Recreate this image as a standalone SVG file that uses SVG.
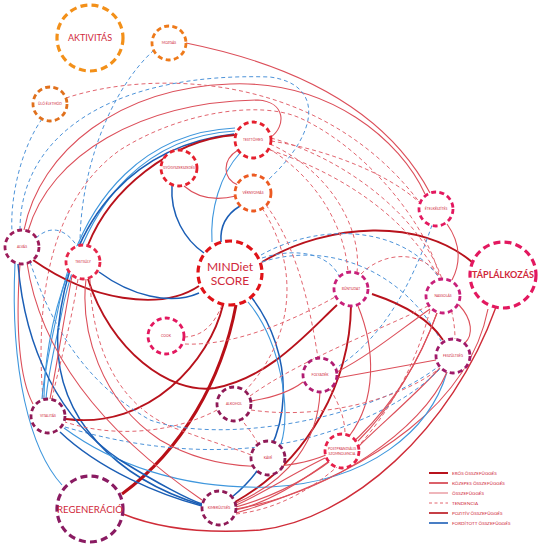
<svg xmlns="http://www.w3.org/2000/svg" width="540" height="547" viewBox="0 0 540 547">
<style>
.c{fill:none}
.r{stroke:#dc4f5a;stroke-width:1.1}
.rm{stroke:#cf2c38;stroke-width:1.4}
.rs{stroke:#b8121c;stroke-width:1.9}
.rx{stroke:#b80f17;stroke-width:3}
.rd{stroke:#e2656f;stroke-width:1;stroke-dasharray:4 3}
.bd{stroke:#4d93d9;stroke-width:1;stroke-dasharray:4 3}
.b{stroke:#1b5eb5;stroke-width:1.5}
.bl{stroke:#3f97dd;stroke-width:1.1}
.n{fill:#fff;stroke-width:2.8;stroke-dasharray:5 3.3}
.N{fill:#fff;stroke-width:3.2;stroke-dasharray:7 4.2}
.t{font-family:Lato,"Liberation Sans",sans-serif;fill:#d0283a;text-anchor:middle}
.s{font-size:3.4px}
.L{font-size:9px}
.lg{font-family:Lato,"Liberation Sans",sans-serif;fill:#d0283a;font-size:4.6px}
</style>
<rect width="540" height="547" fill="#fff"/>
<g id="connectors">
<path class="c r" d="M186,43 Q370,80 430,193"/>
<path class="c r" d="M24,230 C40,150 120,88 230,84 C330,80 400,140 425,194"/>
<path class="c r" d="M28,231 C50,155 140,102 258,100 C286,102 286,126 271,137"/>
<path class="c rd" d="M66,98 C150,70 320,70 420,203"/>
<path class="c bd" d="M20,230 C20,130 120,72 270,77 C322,84 322,130 268,180"/>
<path class="c bd" d="M42,119 C20,150 10,200 12,231"/>
<path class="c bd" d="M154,50 C110,90 80,170 80,245"/>
<path class="c bd" d="M36,238 C50,225 65,228 77,246"/>
<path class="c rd" d="M43,399 C35,300 50,200 120,150 C180,112 260,100 300,118 C370,150 430,230 440,279"/>
<path class="c bl" d="M235,128 C150,132 85,190 60,300 C52,340 44,370 42,399"/>
<path class="c bl" d="M235,131 C152,136 89,193 64,302 C56,342 48,372 46,399"/>
<path class="c b" d="M234,134 C140,145 70,210 58,330 C52,420 120,480 202,505"/>
<path class="c rs" d="M88,245 C110,190 170,140 235,135"/>
<path class="c bl" d="M240,153 C220,175 210,210 212,242"/>
<path class="c b" d="M172,186 C170,215 185,240 204,253"/>
<path class="c b" d="M240,206 C225,215 220,228 221,242"/>
<path class="c r" d="M184,186 C200,200 220,200 236,196"/>
<path class="c r" d="M238,150 C222,160 222,178 238,185"/>
<path class="c rs" d="M33,260 C90,300 160,312 199,286"/>
<path class="c b" d="M99,272 C130,295 170,306 199,293"/>
<path class="c rs" d="M88,279 C110,350 170,395 215,388 C270,378 310,330 337,305"/>
<path class="c rs" d="M262,262 C330,222 420,218 472,262"/>
<path class="c rx" d="M236,305 C222,380 182,450 122,494"/>
<path class="c rs" d="M223,305 C210,360 150,430 66,419"/>
<path class="c b" d="M252,298 C292,350 302,440 232,497"/>
<path class="c bl" d="M248,302 C280,340 292,410 281,444"/>
<path class="c rd" d="M222,305 C215,322 205,336 185,337"/>
<path class="c rd" d="M185,344 C230,346 285,325 335,297"/>
<path class="c bd" d="M261,255 C320,222 402,225 440,279"/>
<path class="c bd" d="M262,262 C330,240 405,272 441,341"/>
<path class="c bd" d="M262,258 C300,246 330,256 339,276"/>
<path class="c r" d="M447,224 C462,245 460,265 452,280"/>
<path class="c r" d="M459,305 C473,320 473,335 465,343"/>
<path class="c bd" d="M432,225 C410,290 380,340 336,368"/>
<path class="c rd" d="M361,274 C385,250 425,250 441,279"/>
<path class="c rs" d="M372,294 C405,305 430,320 443,340"/>
<path class="c rs" d="M351,306 C350,380 310,460 235,502"/>
<path class="c r" d="M358,306 C376,350 376,400 350,435"/>
<path class="c r" d="M430,309 C400,330 370,355 337,372"/>
<path class="c r" d="M337,378 C370,372 410,365 436,360"/>
<path class="c r" d="M437,313 C420,360 390,410 358,441"/>
<path class="c r" d="M440,368 C410,400 380,425 359,446"/>
<path class="c rm" d="M496,307 C452,430 350,520 260,530 C190,535 150,525 123,514"/>
<path class="c r" d="M488,309 C470,400 380,470 236,513"/>
<path class="c bl" d="M447,372 C430,430 370,482 270,487 C180,490 110,462 64,428"/>
<path class="c bd" d="M30,262 C50,320 80,380 150,420 C220,445 370,420 439,366"/>
<path class="c bd" d="M65,427 C150,452 230,456 300,440 C360,425 410,400 441,368"/>
<path class="c bl" d="M15,263 C10,370 30,450 62,485"/>
<path class="c r" d="M20,264 C15,330 20,380 33,404"/>
<path class="c b" d="M60,432 C100,470 160,495 202,506"/>
<path class="c b" d="M18,264 C25,350 60,420 120,460 C160,485 190,500 202,504"/>
<path class="c r" d="M27,263 C40,350 100,430 202,500"/>
<path class="c r" d="M86,279 C80,330 100,400 160,440 C220,475 290,470 326,455"/>
<path class="c r" d="M72,276 C62,330 56,370 50,399"/>
<path class="c rd" d="M78,279 C70,330 58,370 52,399"/>
<path class="c rd" d="M90,279 C92,350 120,410 180,430 C220,445 240,450 251,455"/>
<path class="c bl" d="M68,274 C50,320 44,370 44,399"/>
<path class="c r" d="M251,401 C270,398 290,392 303,382"/>
<path class="c rd" d="M250,396 C300,360 380,330 428,306"/>
<path class="c rd" d="M251,410 C320,420 400,400 440,368"/>
<path class="c rd" d="M217,410 C180,430 120,440 65,422"/>
<path class="c rd" d="M258,444 C252,432 246,426 242,420"/>
<path class="c r" d="M325,458 C290,475 262,494 236,505"/>
<path class="c r" d="M328,462 C300,482 270,502 236,510"/>
<path class="c rd" d="M236,514 C322,505 402,420 430,310"/>
<path class="c r" d="M236,507 C332,480 402,410 437,313"/>
<path class="c r" d="M236,509 C332,492 422,430 447,372"/>
<path class="c r" d="M320,392 C318,440 290,480 236,503"/>
<path class="c rd" d="M330,389 C340,405 345,420 345,434"/>
<path class="c rd" d="M268,148 C320,180 345,230 348,272"/>
<path class="c rd" d="M270,144 C332,172 362,230 357,272"/>
<path class="c rd" d="M271,138 C350,160 422,220 442,279"/>
<path class="c rd" d="M271,141 C330,150 390,175 420,203"/>
<path class="c rd" d="M266,205 C300,250 312,320 318,358"/>
<path class="c rd" d="M262,208 C302,270 292,340 246,390"/>
<path class="c rd" d="M270,150 C390,190 455,270 455,339"/>
</g>
<g id="n-aktivitas"><circle class="N" cx="90" cy="38" r="33" stroke="#f39019"/><text class="t L" x="90" y="41">AKTIVITÁS</text></g>
<g id="n-mozgas"><circle class="n" cx="169" cy="43" r="17" stroke="#ee7a1a"/><text class="t s" x="169" y="44.2">MOZGÁS</text></g>
<g id="n-ulo"><circle class="n" cx="50" cy="104" r="17" stroke="#e0701c"/><text class="t s" x="50" y="105.2">ÜLŐ ÉLETMÓD</text></g>
<g id="n-testtomeg"><circle class="n" cx="253" cy="140" r="18" stroke="#e5202e"/><text class="t s" x="253" y="141.2">TESTTÖMEG</text></g>
<g id="n-gyogy"><circle class="n" cx="179" cy="168" r="18" stroke="#e5202e"/><text class="t s" x="179" y="169.2">GYÓGYSZERSZEDÉS</text></g>
<g id="n-vernyomas"><circle class="n" cx="253" cy="193" r="18" stroke="#ec5a22"/><text class="t s" x="253" y="194.2">VÉRNYOMÁS</text></g>
<g id="n-etel"><circle class="n" cx="436" cy="209" r="17" stroke="#e3185f"/><text class="t s" x="436" y="210.2">ÉTELKÉSZÍTÉS</text></g>
<g id="n-alvas"><circle class="n" cx="22" cy="247" r="17" stroke="#9c1c5a"/><text class="t s" x="22" y="248.2">ALVÁS</text></g>
<g id="n-testsuly"><circle class="n" cx="83" cy="262" r="17" stroke="#e6264a"/><text class="t s" x="83" y="263.2">TESTSÚLY</text></g>
<g id="n-mind"><circle class="N" cx="230" cy="273" r="32" stroke="#e01218"/><text class="t" x="230" y="271" font-size="12">MINDiet</text><text class="t" x="230" y="285" font-size="12">SCORE</text></g>
<g id="n-taplalkozas"><circle class="N" cx="503" cy="275" r="33" stroke="#e3185f"/><text class="t L" x="503" y="278" font-weight="bold">TÁPLÁLKOZÁS</text></g>
<g id="n-buntudat"><circle class="n" cx="351" cy="289" r="17" stroke="#c8207a"/><text class="t s" x="351" y="290.2">BŰNTUDAT</text></g>
<g id="n-nassolas"><circle class="n" cx="443" cy="296" r="17" stroke="#c8207a"/><text class="t s" x="443" y="297.2">NASSOLÁS</text></g>
<g id="n-cook"><circle class="n" cx="166" cy="336" r="18" stroke="#e3185f"/><text class="t s" x="166" y="337.2">COOK</text></g>
<g id="n-feszultseg"><circle class="n" cx="453" cy="356" r="17" stroke="#a01a6a"/><text class="t s" x="453" y="357.2">FESZÜLTSÉG</text></g>
<g id="n-folyadek"><circle class="n" cx="320" cy="375" r="17" stroke="#b01d72"/><text class="t s" x="320" y="376.2">FOLYADÉK</text></g>
<g id="n-alkohol"><circle class="n" cx="234" cy="404" r="17" stroke="#8f1a57"/><text class="t s" x="234" y="405.2">ALKOHOL</text></g>
<g id="n-vitalitas"><circle class="n" cx="48" cy="416" r="17" stroke="#8f1a57"/><text class="t s" x="48" y="417.2">VITALITÁS</text></g>
<g id="n-kave"><circle class="n" cx="268" cy="458" r="17" stroke="#8f1a57"/><text class="t s" x="268" y="459.2">KÁVÉ</text></g>
<g id="n-pps"><circle class="n" cx="342" cy="451" r="17" stroke="#e6204a"/><text class="t s" x="342" y="449.5" font-size="3.1">POSTPRANDIÁLIS</text><text class="t s" x="342" y="454.5" font-size="3.1">SZOMNOLENCIA</text></g>
<g id="n-regeneracio"><circle class="N" cx="90" cy="509" r="33" stroke="#8a1b62"/><text class="t" x="90" y="512.5" font-size="9.6">REGENERÁCIÓ</text></g>
<g id="n-kimerultseg"><circle class="n" cx="219" cy="508" r="17" stroke="#8f1a57"/><text class="t s" x="219" y="509.2">KIMERÜLTSÉG</text></g>
<g id="legend">
<line x1="429" y1="473" x2="448" y2="473" stroke="#b8121c" stroke-width="2"/>
<line x1="429" y1="483" x2="448" y2="483" stroke="#cf2c38" stroke-width="1.5"/>
<line x1="429" y1="493" x2="448" y2="493" stroke="#e27a84" stroke-width="1.1"/>
<line x1="429" y1="503" x2="448" y2="503" stroke="#e2656f" stroke-width="1" stroke-dasharray="3 2.5"/>
<line x1="429" y1="513" x2="448" y2="513" stroke="#b80f17" stroke-width="1.6"/>
<line x1="429" y1="523" x2="448" y2="523" stroke="#1b5eb5" stroke-width="1.6"/>
<text class="lg" x="452" y="474.6">ERŐS ÖSSZEFÜGGÉS</text>
<text class="lg" x="452" y="484.6">KÖZEPES ÖSSZEFÜGGÉS</text>
<text class="lg" x="452" y="494.6">ÖSSZEFÜGGÉS</text>
<text class="lg" x="452" y="504.6">TENDENCIA</text>
<text class="lg" x="452" y="514.6">POZITÍV ÖSSZEFÜGGÉS</text>
<text class="lg" x="452" y="524.6">FORDÍTOTT ÖSSZEFÜGGÉS</text>
</g>
</svg>
